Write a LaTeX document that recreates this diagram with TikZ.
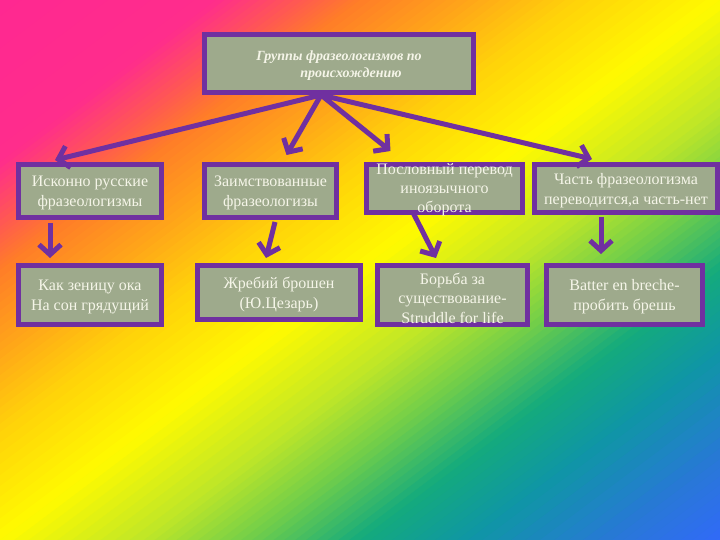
\documentclass[tikz,border=0pt]{standalone}
\usepackage{fontspec}
\setmainfont{Liberation Serif}
\usetikzlibrary{arrows.meta}
\definecolor{boxfill}{RGB}{158,170,140}
\definecolor{boxline}{RGB}{112,48,160}
\definecolor{txt}{RGB}{245,245,232}
\definecolor{g0}{RGB}{255,40,145}
\definecolor{g1}{RGB}{255,45,140}
\definecolor{g2}{RGB}{255,90,80}
\definecolor{g3}{RGB}{255,125,40}
\definecolor{g4}{RGB}{255,165,25}
\definecolor{g5}{RGB}{255,210,10}
\definecolor{g6}{RGB}{255,250,0}
\definecolor{g7}{RGB}{190,230,40}
\definecolor{g8}{RGB}{110,205,75}
\definecolor{g9}{RGB}{20,170,125}
\definecolor{g10}{RGB}{15,150,165}
\definecolor{g11}{RGB}{40,120,215}
\definecolor{g12}{RGB}{50,105,250}
\tikzset{
  box/.style={draw=boxline, fill=boxfill, line width=5pt, inner sep=0pt},
  lbl/.style={font=\fontsize{16}{20}\selectfont, text=txt, align=center, inner sep=0pt},
  arr/.style={draw=boxline, line width=5pt, -{Straight Barb[length=10pt,width=22pt]}}
}
\begin{document}
\begin{tikzpicture}[x=1pt,y=-1pt]
\useasboundingbox (0,0) rectangle (720,540);
\begin{scope}
\clip (0,0) rectangle (720,540);
\foreach \ta/\tb/\ca/\cb in {0/0.30/g0/g1, 0.30/0.42/g1/g2, 0.42/0.50/g2/g3, 0.50/0.65/g3/g4, 0.65/0.80/g4/g5, 0.80/1.00/g5/g6, 1.00/1.20/g6/g7, 1.20/1.35/g7/g8, 1.35/1.50/g8/g9, 1.50/1.65/g9/g10, 1.65/1.85/g10/g11, 1.85/2.01/g11/g12}{
  \foreach \k in {0,...,9}{
    \pgfmathsetmacro\tsa{\ta+\k*(\tb-\ta)/10}
    \pgfmathsetmacro\tsb{\ta+(\k+1.2)*(\tb-\ta)/10}
    \pgfmathtruncatemacro\p{(\k+0.5)*10}
    \fill[\cb!\p!\ca] ({\tsa*720},0) -- ({\tsb*720},0) -- ({\tsb*720-720},540) -- ({\tsa*720-720},540) -- cycle;
  }
}
\end{scope}
% boxes
\node[box, minimum width=269pt, minimum height=58pt] (T) at (339,63.5) {};
\node[box, minimum width=143pt, minimum height=53pt] (A) at (90,191) {};
\node[box, minimum width=132pt, minimum height=53pt] (B) at (270.5,191) {};
\node[box, minimum width=156pt, minimum height=48pt] (C) at (444.5,188.5) {};
\node[box, minimum width=183pt, minimum height=48pt] (D) at (626,188.5) {};
\node[box, minimum width=143pt, minimum height=59pt] (E) at (90,295) {};
\node[box, minimum width=163pt, minimum height=54pt] (F) at (279,292.5) {};
\node[box, minimum width=150pt, minimum height=59pt] (G) at (452.5,295) {};
\node[box, minimum width=156pt, minimum height=59pt] (H) at (624.5,295) {};
% arrows
\draw[arr] ([xshift=-18pt]T.south) -- ([xshift=-35pt,yshift=2pt]A.north);
\draw[arr] ([xshift=-18pt]T.south) -- ([xshift=16pt,yshift=7pt]B.north);
\draw[arr] ([xshift=-18pt]T.south) -- ([xshift=-54pt,yshift=11pt]C.north);
\draw[arr] ([xshift=-18pt]T.south) -- ([xshift=-34pt,yshift=3pt]D.north);
\draw[arr] ([xshift=-40pt,yshift=-3pt]A.south) -- ([xshift=-40pt,yshift=5pt]E.north);
\draw[arr] ([xshift=4.5pt,yshift=-2pt]B.south) -- ([xshift=-13pt,yshift=5pt]F.north);
\draw[arr] ([xshift=-31.5pt,yshift=2.5pt]C.south) -- ([xshift=-16.5pt,yshift=5pt]G.north);
\draw[arr] ([xshift=-25pt,yshift=-2pt]D.south) -- ([xshift=-23.5pt,yshift=9pt]H.north);
% texts
\node[lbl, font=\fontsize{14}{17}\selectfont\bfseries\itshape] (tT) at ([yshift=-2pt]T.center) {Группы фразеологизмов по\\\hspace*{24pt}происхождению};
\node[lbl] (tA) at ([yshift=-2pt]A.center) {Исконно русские\\фразеологизмы};
\node[lbl] (tB) at ([yshift=-2pt]B.center) {Заимствованные\\фразеологизы};
\node[lbl, font=\fontsize{16}{19}\selectfont] (tC) at ([yshift=-1pt]C.center) {Пословный перевод\\иноязычного\\оборота};
\node[lbl] (tD) at ([yshift=-2pt]D.center) {Часть фразеологизма\\переводится,а часть-нет};
\node[lbl] (tE) at ([yshift=-2pt]E.center) {Как зеницу ока\\На сон грядущий};
\node[lbl] (tF) at ([yshift=-2pt]F.center) {Жребий брошен\\(Ю.Цезарь)};
\node[lbl, font=\fontsize{16}{19.5}\selectfont] (tG) at ([yshift=-3pt]G.center) {Борьба за\\существование-\\Struddle for life};
\node[lbl] (tH) at ([yshift=-2pt]H.center) {Batter en breche-\\пробить брешь};
\end{tikzpicture}
\end{document}
